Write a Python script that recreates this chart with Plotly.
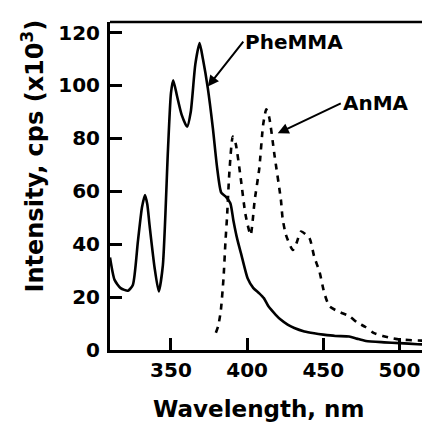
import plotly.graph_objects as go

# PheMMA emission (solid)
phe_wl = [310, 313, 317, 321.8, 325, 328.3, 331, 333, 334.5, 336, 339.3, 342, 344.7, 348,
          350, 351.5, 354, 357, 360.6, 363, 366, 368.8, 371, 374.2, 377.5, 380.3, 383,
          386, 389, 391, 393.5, 396, 400.4, 404, 408, 411, 414, 418.8, 422, 426.6, 431,
          437.6, 444, 450, 458, 467, 472, 478, 490, 500, 512, 524]
phe_int = [35, 26.5, 23.4, 22.4, 24.6, 41, 54, 58.6, 55, 47, 31, 22.1, 32, 75,
           97, 102, 96, 89, 84.4, 90, 108, 116, 110, 99, 84, 69, 59.5,
           58, 55.5, 49, 42, 36.5, 27, 23.5, 21.4, 19.6, 16.5, 13.3, 11.5, 9.6, 8.3,
           7, 6.3, 5.8, 5.3, 5.1, 4.3, 3.4, 2.9, 2.6, 2.2, 1.9]

# AnMA emission (dashed)
anma_wl = [379.5, 381, 382.7, 384.5, 385.8, 386.8, 388.4, 390.6, 392.5, 395.8, 399, 402.3,
           405, 408, 410.5, 412.6, 414.5, 418, 422.2, 423.3, 425.5, 430, 432.5, 435.4,
           440.9, 444, 447.6, 450.7, 454, 460, 467, 472, 477.7, 483, 489, 495, 500, 512, 524]
anma_int = [6.5, 9, 14.7, 27, 41, 50, 67.5, 80.7, 78, 65, 51, 43.5,
            56.7, 68.7, 85, 91, 88, 73.6, 56.7, 49.8, 43.5, 37.8, 40.5, 44.8,
            42.3, 35.4, 29.4, 21.5, 16.6, 14.5, 12.8, 10.5, 8.7, 6.5, 5.3, 4.5, 4, 3.6, 3.4]

x_ticks = [350, 400, 450, 500]
y_ticks = [0, 20, 40, 60, 80, 100, 120]

font = "DejaVu Sans"
bold = dict(family=font, color="black", weight=700)

fig = go.Figure()
fig.add_trace(go.Scatter(x=phe_wl, y=phe_int, mode="lines",
                         line=dict(color="black", width=2.6, shape="spline", smoothing=0.6)))
fig.add_trace(go.Scatter(x=anma_wl, y=anma_int, mode="lines",
                         line=dict(color="black", width=2.6, dash="6px,6px", shape="spline", smoothing=0.6)))

# labels with arrows pointing at the curves
fig.add_annotation(x=374.2, y=99.6, ax=397.5, ay=116.6, axref="x", ayref="y", text="PheMMA",
                   xanchor="left", yanchor="middle", font=dict(size=20, **bold),
                   showarrow=True, arrowhead=2, arrowsize=1.1, arrowwidth=2, arrowcolor="black")
fig.add_annotation(x=420.1, y=81.9, ax=461.5, ay=93.2, axref="x", ayref="y", text="AnMA",
                   xanchor="left", yanchor="middle", font=dict(size=20, **bold),
                   showarrow=True, arrowhead=2, arrowsize=1.1, arrowwidth=2, arrowcolor="black")

# axis titles
fig.add_annotation(xref="paper", yref="paper", x=0.454, y=0, yshift=-59, text="Wavelength, nm",
                   showarrow=False, xanchor="center", yanchor="middle", font=dict(size=23, **bold))
fig.add_annotation(xref="paper", yref="paper", x=0, xshift=-77, y=0.59,
                   text="Intensity, cps (x10<sup>3</sup>)", textangle=-90,
                   showarrow=False, xanchor="center", yanchor="middle", font=dict(size=24, **bold))

# top and right frame
fig.add_shape(type="line", xref="paper", yref="paper", x0=0, x1=1, y0=1, y1=1,
              line=dict(color="black", width=2.5))
fig.add_shape(type="line", xref="paper", yref="paper", x0=1, x1=1, y0=0, y1=1,
              line=dict(color="#888888", width=1))

fig.update_xaxes(range=[310, 524], tickvals=x_ticks, ticks="inside", ticklen=12, tickwidth=3,
                 tickcolor="black", showline=True, linewidth=3, linecolor="black",
                 showgrid=False, zeroline=False, tickfont=dict(size=20, **bold))
fig.update_yaxes(range=[0, 124], tickvals=y_ticks, ticks="inside", ticklen=12, tickwidth=3,
                 tickcolor="black", showline=True, linewidth=3, linecolor="black",
                 showgrid=False, zeroline=False, tickfont=dict(size=20, **bold),
                 ticklabelstandoff=3)

fig.update_layout(width=430, height=422, margin=dict(l=102, r=2, t=14, b=80),
                  plot_bgcolor="white", paper_bgcolor="white", showlegend=False)

fig.write_html("out.html")
